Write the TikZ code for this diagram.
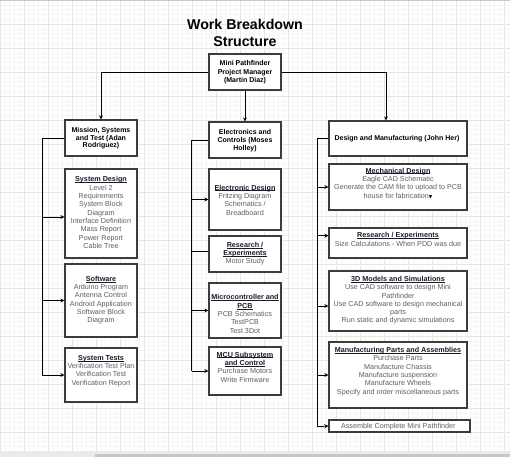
\documentclass[tikz,border=0pt]{standalone}
\usepackage{fontspec}
\setmainfont{Liberation Sans}
\newfontfamily\dejavu{DejaVu Sans}
\usetikzlibrary{arrows.meta}
\definecolor{boxc}{HTML}{3C3C3C}
\definecolor{itemc}{HTML}{5E5E5E}
\definecolor{titc}{HTML}{1A1A2A}
\definecolor{gridmaj}{HTML}{E6E6E6}
\definecolor{gridmin}{HTML}{F6F6F6}
\newcommand\boxtitle[1]{{\color{titc}\bfseries\setbox0\hbox{#1}\rlap{\rule[-0.8pt]{\wd0}{0.45pt}}\box0}}
\tikzset{
  box/.style={draw=boxc, line width=1.2pt, fill=white, inner sep=0pt},
  hd/.style={font=\bfseries\fontsize{7}{7.8}\selectfont, align=center, text=black, inner sep=0pt},
  body/.style={font=\fontsize{7.2}{8.33}\selectfont, align=center, text=itemc, inner sep=0pt},
  conn/.style={line width=0.8pt, black},
  arr/.style={conn, -{Stealth[length=4pt,width=4pt]}},
}
\begin{document}
\begin{tikzpicture}[x=1pt,y=-1pt]
\useasboundingbox (0,0) rectangle (510,457);
\fill[white] (0,0) rectangle (510,457);
% grid
\foreach \i in {0,4.8,...,510} {
  \draw[gridmin, line width=0.5pt] (\i,0) -- (\i,457);
}
\foreach \i in {0,4.8,...,457} {
  \draw[gridmin, line width=0.5pt] (0,\i) -- (510,\i);
}
\foreach \i in {0,24,...,504} {
  \draw[gridmaj, line width=0.8pt] (\i,0) -- (\i,457);
}
\foreach \i in {0,24,...,456} {
  \draw[gridmaj, line width=0.8pt] (0,\i) -- (510,\i);
}
\draw[black!22, line width=1pt] (0,0.5) -- (510,0.5);
\fill[black!8] (0,451) rectangle (510,457);
\fill[black!22] (95,453.5) rectangle (510,457);

% title
\node[font=\bfseries\fontsize{14.2}{17}\selectfont, align=center, inner sep=0pt] (title) at (245,33) {Work Breakdown\\Structure};

% boxes
\node[box, minimum width=72pt, minimum height=36pt] (root) at (245,72) {};
\node[box, minimum width=72pt, minimum height=36pt] (mst) at (101,138) {};
\node[box, minimum width=72pt, minimum height=36pt] (ec) at (245,140) {};
\node[box, minimum width=138pt, minimum height=35pt] (dm) at (398,138.5) {};
\node[box, minimum width=72pt, minimum height=89pt] (sd) at (101,213.5) {};
\node[box, minimum width=72pt, minimum height=73pt] (sw) at (101,300.5) {};
\node[box, minimum width=72pt, minimum height=54pt] (st) at (101,375) {};
\node[box, minimum width=72pt, minimum height=61pt] (ed) at (245,199.5) {};
\node[box, minimum width=72pt, minimum height=36pt] (re) at (245,254) {};
\node[box, minimum width=72pt, minimum height=55pt] (mc) at (245,310.5) {};
\node[box, minimum width=72pt, minimum height=48pt] (mcu) at (245,371) {};
\node[box, minimum width=138pt, minimum height=46pt] (md) at (398,187) {};
\node[box, minimum width=138pt, minimum height=30pt] (r3) at (398,243) {};
\node[box, minimum width=138pt, minimum height=60pt] (m3d) at (398,301) {};
\node[box, minimum width=138pt, minimum height=66pt] (mf) at (398,375) {};
\node[box, minimum width=141pt, minimum height=12pt] (as) at (399.5,426) {};

% texts
\node[hd, font=\bfseries\fontsize{7}{8.8}\selectfont] (rootT) at (245,72.2) {Mini Pathfinder\\Project Manager\\(Martin Diaz)};
\node[hd] (mstT) at (101,138.3) {Mission, Systems\\and Test (Adan\\Rodriguez)};
\node[hd] (ecT) at (245,140.5) {Electronics and\\Controls (Moses\\Holley)};
\node[hd] (dmT) at (397,138.3) {Design and Manufacturing (John Her)};

\node[body] (sdT) at (101,212.7) {\boxtitle{System Design}\\Level 2\\Requirements\\System Block\\Diagram\\Interface Definition\\Mass Report\\Power Report\\Cable Tree};
\node[body] (swT) at (101,300.2) {\boxtitle{Software}\\Arduino Program\\Antenna Control\\Android Application\\Software Block\\Diagram};
\node[body] (stT) at (101,371) {\boxtitle{System Tests}\\Verification Test Plan\\Verification Test\\Verification Report};

\node[body] (edT) at (245,200) {\boxtitle{Electronic Design}\\Fritzing Diagram\\Schematics /\\Breadboard};
\node[body] (reT) at (245,253.7) {\boxtitle{Research /}\\\boxtitle{Experiments}\\Motor Study};
\node[body] (mcT) at (245,314) {\boxtitle{Microcontroller and}\\\boxtitle{PCB}\\PCB Schematics\\TestPCB\\Test 3Dot};
\node[body] (mcuT) at (245,367) {\boxtitle{MCU Subsystem}\\\boxtitle{and Control}\\Purchase Motors\\Write Firmware};

\node[body] (mdT) at (398,183.2) {\boxtitle{Mechanical Design}\\Eagle CAD Schematic\\Generate the CAM file to upload to PCB\\house for fabrication{\color{black}\dejavu\fontsize{4.5}{5}\selectfont ▼}};
\node[body] (r3T) at (398,239.5) {\boxtitle{Research / Experiments}\\Size Calculations - When PDD was due};
\node[body] (m3dT) at (398,300.3) {\boxtitle{3D Models and Simulations}\\Use CAD software to design Mini\\Pathfinder\\Use CAD software to design mechanical\\parts\\Run static and dynamic simulations};
\node[body] (mfT) at (398,371.5) {\boxtitle{Manufacturing Parts and Assemblies}\\Purchase Parts\\Manufacture Chassis\\Manufacture suspension\\Manufacture Wheels\\Specify and order miscellaneous parts};
\node[body] (asT) at (398.3,426.7) {Assemble Complete Mini Pathfinder};

% top-level connectors
\coordinate (dmin) at ([xshift=-12pt]dm.north);
\draw[arr] (root.west) -| (mst.north);
\draw[arr] (root.south) -- (ec.north);
\draw[arr] (root.east) -| (dmin);

% column 1
\coordinate (s1) at (42,375);
\coordinate (sdin) at ([yshift=-3.5pt]sd.west);
\draw[conn] (mst.west) -| (s1);
\draw[arr] (s1 |- sdin) -- (sdin);
\draw[arr] (s1 |- sw.west) -- (sw.west);
\draw[arr] (s1 |- st.west) -- (st.west);

% column 2
\coordinate (s2) at (191.5,371);
\coordinate (rein) at ([yshift=2.3pt]re.west);
\draw[conn] (ec.west) -| (s2);
\draw[arr] (s2 |- ed.west) -- (ed.west);
\draw[conn] (s2 |- rein) -- (rein);
\draw[arr] (s2 |- mc.west) -- (mc.west);
\draw[arr] (s2 |- mcu.west) -- (mcu.west);

% column 3
\coordinate (s3) at (317.5,426.7);
\coordinate (r3in) at ([yshift=7.3pt]r3.west);
\coordinate (m3din) at ([yshift=-5pt]m3d.west);
\draw[conn] (dm.west) -| (s3);
\draw[arr] (s3 |- md.west) -- (md.west);
\draw[arr] (s3 |- r3in) -- (r3in);
\draw[arr] (s3 |- m3din) -- (m3din);
\draw[arr] (s3 |- mf.west) -- (mf.west);
\draw[arr] (s3) -- (as.west);
\end{tikzpicture}
\end{document}
